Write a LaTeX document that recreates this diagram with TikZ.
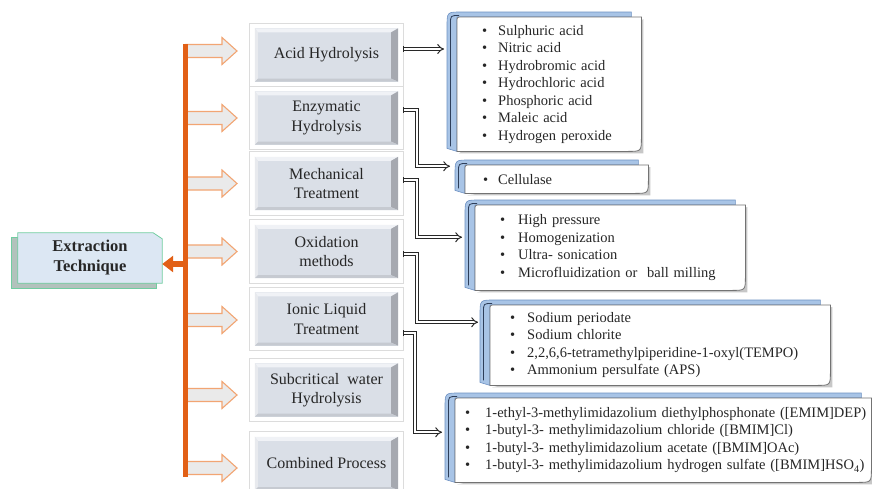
\documentclass[tikz,border=0pt]{standalone}
\usepackage{fontspec}
\setmainfont{Liberation Serif}
\usetikzlibrary{arrows.meta,calc,backgrounds}

\definecolor{spinecol}{RGB}{226,96,22}
\definecolor{peach}{RGB}{242,165,115}
\definecolor{fatfill}{RGB}{234,234,234}
\definecolor{facecol}{RGB}{218,223,231}
\definecolor{bvtopcol}{RGB}{240,242,246}
\definecolor{bvrightcol}{RGB}{166,169,176}
\definecolor{bvleftcol}{RGB}{232,234,238}
\definecolor{bvbotcol}{RGB}{198,202,209}
\definecolor{framecol}{RGB}{220,220,220}
\definecolor{extfill}{RGB}{220,231,243}
\definecolor{extline}{RGB}{112,205,160}
\definecolor{extshade}{RGB}{178,194,188}
\definecolor{bluefr}{RGB}{168,196,230}
\definecolor{bluefrline}{RGB}{110,145,195}
\definecolor{bluedark}{RGB}{45,62,90}
\definecolor{lboxline}{RGB}{115,115,115}
\definecolor{inkcol}{RGB}{38,38,38}
\definecolor{linkcol}{RGB}{40,40,40}

% bullet item: fixed-width bullet column, then the text
\newcommand{\itm}[2]{\mbox{\makebox[#1][l]{\textbullet}#2}}

\tikzset{
  midbox/.style={minimum width=143pt, minimum height=53pt, inner sep=0pt,
    align=center, text=inkcol, font=\fontsize{16}{19.5}\selectfont},
  listbox/.style={anchor=north west, align=left, inner ysep=0pt, text=inkcol},
  extbox/.style={minimum width=144pt, minimum height=50pt, inner sep=0pt,
    align=center, text=inkcol, font=\bfseries\fontsize{16.5}{20}\selectfont},
  boxframe/.style={draw=framecol, fill=white, line width=0.8pt},
  fatarr/.style={draw=peach, line width=1.1pt, fill=fatfill,
    to path={($(\tikztostart)+(0,-6.5)$) -- ($(\tikztotarget)+(-15,-6.5)$)
      -- ($(\tikztotarget)+(-15,-13.5)$) -- (\tikztotarget)
      -- ($(\tikztotarget)+(-15,13.5)$) -- ($(\tikztotarget)+(-15,6.5)$)
      -- ($(\tikztostart)+(0,6.5)$) -- cycle}},
  dbl/.style={draw=linkcol, double=white, double distance=2.4pt,
    line width=1pt, -{Implies[scale=1.3]}},
  stubend/.style={draw=linkcol, line width=1pt},
  lboxpath/.style={insert path={(#1.south west) -- ([yshift=-5pt]#1.north west)
      .. controls (#1.north west) .. ([xshift=5pt]#1.north west)
      -- (#1.north east) -- ([yshift=14pt]#1.south east)
      .. controls (#1.south east) .. ([xshift=-14pt]#1.south east) -- cycle}},
}

\begin{document}
\begin{tikzpicture}[x=1pt,y=-1pt, font=\fontsize{14.5}{17.5}\selectfont]
\useasboundingbox (0,0) rectangle (872,488);
\clip (0,0) rectangle (872,488);

% ---------- technique boxes ----------
\node[midbox] (acid)  at (326.5,55)    {Acid Hydrolysis};
\node[midbox] (enz)   at (326.5,118)   {Enzymatic\\Hydrolysis};
\node[midbox] (mech)  at (326.5,183.5) {Mechanical\\Treatment};
\node[midbox] (oxid)  at (326.5,251.5) {Oxidation\\methods};
\node[midbox] (ionic) at (326.5,319)   {Ionic Liquid\\Treatment};
\node[midbox] (subc)  at (326.5,390)   {Subcritical~~water\\Hydrolysis};
\node[midbox] (comb)  at (326.5,463.5) {Combined Process};

% ---------- root box ----------
\node[extbox] (ext) at (90,258) {Extraction\\Technique};

% ---------- lists ----------
\node[listbox, text width=134pt, inner xsep=25pt, minimum height=134pt] (l1) at (457,17) {%
  \itm{16pt}{Sulphuric acid}\\
  \itm{16pt}{Nitric acid}\\
  \itm{16pt}{Hydrobromic acid}\\
  \itm{16pt}{Hydrochloric acid}\\
  \itm{16pt}{Phosphoric acid}\\
  \itm{16pt}{Maleic acid}\\
  \itm{16pt}{Hydrogen peroxide}};
\node[listbox, text width=147pt, inner xsep=18pt, minimum height=28pt] (l2) at (465,165) {%
  \itm{15pt}{Cellulase}};
\node[listbox, text width=220pt, inner xsep=25pt, minimum height=85pt] (l3) at (475,205) {%
  \itm{18pt}{High pressure}\\
  \itm{18pt}{Homogenization}\\
  \itm{18pt}{Ultra- sonication}\\
  \itm{18pt}{Microfluidization or~ ball milling}};
\node[listbox, text width=300pt, inner xsep=20pt, minimum height=80pt] (l4) at (490,305) {%
  \itm{17pt}{Sodium periodate}\\
  \itm{17pt}{Sodium chlorite}\\
  \itm{17pt}{2,2,6,6-tetramethylpiperidine-1-oxyl(TEMPO)}\\
  \itm{17pt}{Ammonium persulfate (APS)}};
\node[listbox, text width=396pt, inner xsep=10pt, minimum height=84pt] (l5) at (455,398) {%
  \itm{20pt}{1-ethyl-3-methylimidazolium diethylphosphonate ([EMIM]DEP)}\\
  \itm{20pt}{1-butyl-3- methylimidazolium chloride ([BMIM]Cl)}\\
  \itm{20pt}{1-butyl-3- methylimidazolium acetate ([BMIM]OAc)}\\
  \itm{20pt}{1-butyl-3- methylimidazolium hydrogen sulfate ([BMIM]HSO\textsubscript{4})}};

% ---------- box artwork ----------
\begin{scope}[on background layer]
  \fill[white] (0,0) rectangle (872,488);
  % bevelled technique boxes in light frames
  \foreach \n in {acid,enz,mech,oxid,ionic,subc,comb}{
    \draw[boxframe] ([shift={(-5pt,5pt)}]\n.north west) rectangle ([shift={(5pt,-5pt)}]\n.south east);
    \fill[facecol] (\n.north west) rectangle (\n.south east);
    \fill[bvtopcol] (\n.north west) -- (\n.north east) -- ([shift={(-7pt,-4pt)}]\n.north east)
      -- ([shift={(3pt,-4pt)}]\n.north west) -- cycle;
    \fill[bvrightcol] (\n.north east) -- (\n.south east) -- ([shift={(-7pt,3pt)}]\n.south east)
      -- ([shift={(-7pt,-4pt)}]\n.north east) -- cycle;
    \fill[bvleftcol] (\n.north west) -- ([shift={(3pt,-4pt)}]\n.north west)
      -- ([shift={(3pt,3pt)}]\n.south west) -- (\n.south west) -- cycle;
    \fill[bvbotcol] (\n.south west) -- ([shift={(3pt,3pt)}]\n.south west)
      -- ([shift={(-7pt,3pt)}]\n.south east) -- (\n.south east) -- cycle;
  }
  % list boxes: blue back frame, soft shadow, white card
  \foreach \n in {l1,l2,l3,l4,l5}{
    \filldraw[fill=bluefr, draw=bluefrline, line width=0.6pt]
      ([shift={(-10pt,3pt)}]\n.south west) -- ([shift={(-10pt,-10pt)}]\n.north west)
      .. controls ([shift={(-10pt,5pt)}]\n.north west) .. ([shift={(4pt,5pt)}]\n.north west)
      -- ([shift={(-10pt,5pt)}]\n.north east) -- ([shift={(-10pt,0pt)}]\n.north east)
      -- (\n.north west) -- (\n.south west) -- cycle;
    \draw[bluedark, line width=0.8pt]
      ([shift={(-6.5pt,5pt)}]\n.south west) -- ([shift={(-6.5pt,-7pt)}]\n.north west)
      .. controls ([shift={(-6.5pt,1.5pt)}]\n.north west) .. ([shift={(2pt,1.5pt)}]\n.north west);
    \fill[black!22] ([shift={(2pt,-2pt)}]\n.south west) -- ([shift={(2pt,-2pt)}]\n.north east)
      -- ([shift={(2pt,-2pt)}]\n.south east) -- cycle;
    \path[fill=white, draw=lboxline, line width=0.8pt, lboxpath=\n];
  }
  % root box with offset shade
  \filldraw[fill=extshade, draw=extline, line width=0.8pt]
    ([shift={(-6pt,-5pt)}]ext.south west) rectangle ([shift={(-6pt,-5pt)}]ext.north east);
  \filldraw[fill=extfill, draw=extline, line width=0.8pt]
    (ext.south west) -- (ext.north west) -- ([xshift=-9pt]ext.north east)
    -- ([yshift=-6pt]ext.north east) -- (ext.south east) -- cycle;
\end{scope}

% ---------- orange spine and branch arrows ----------
\coordinate (stop) at (185,44);
\coordinate (sbot) at (185,477);
\coordinate (sj) at (185,264);
\foreach \y [count=\i] in {51,118,183.5,251.5,320,395,468}{
  \coordinate (fs\i) at (186,\y);
  \coordinate (ft\i) at (237,\y);
  \path[fatarr] (fs\i) to (ft\i);
}
\draw[spinecol, line width=5pt] (stop) -- (sbot);
\draw[spinecol, line width=6pt, -{Triangle[length=11pt,width=16pt]}] (sj) -- (sj -| ext.east);

% ---------- double-line connectors to the lists ----------
\coordinate (ao) at ([shift={(5pt,6pt)}]acid.east);
\coordinate (eo) at ([shift={(5pt,8pt)}]enz.east);
\coordinate (mo) at ([shift={(5pt,3.5pt)}]mech.east);
\coordinate (oo) at ([shift={(5pt,-2.5pt)}]oxid.east);
\coordinate (io) at ([shift={(5pt,-14pt)}]ionic.east);
\draw[dbl, shorten >=13pt] (ao) -- (ao -| l1.west);
\draw[dbl] (eo) -- ++(14,0) |- ([shift={(-15pt,13pt)}]l2.west);
\draw[dbl] (mo) -- ++(14,0) |- ([shift={(-13pt,10.5pt)}]l3.west);
\draw[dbl] (oo) -- ++(14,0) |- ([shift={(-12pt,23pt)}]l4.west);
\draw[dbl] (io) -- ++(12,0) |- ([shift={(-13pt,8pt)}]l5.west);
% closed ends of the connector stubs
\foreach \c in {ao,eo,mo,oo,io}{
  \draw[stubend] ([yshift=2.7pt]\c) -- ([yshift=-2.7pt]\c);
}
\end{tikzpicture}
\end{document}
